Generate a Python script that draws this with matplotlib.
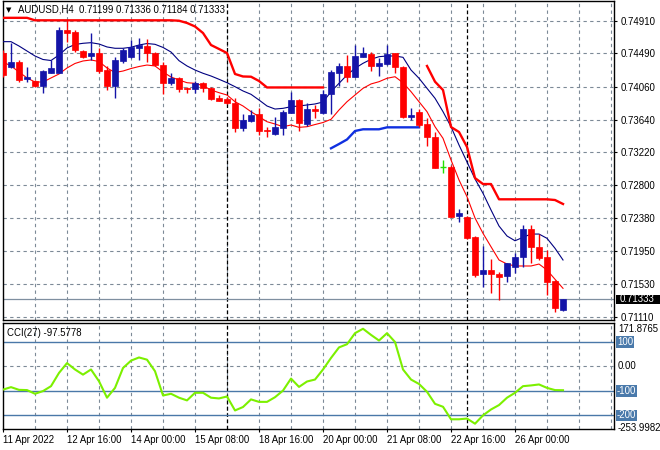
import matplotlib
matplotlib.use('Agg')
import matplotlib.pyplot as plt
from matplotlib.patches import Rectangle
import numpy as np

plt.rcParams['font.family'] = ['Liberation Sans', 'DejaVu Sans']

# AUDUSD H4 bars
opens = [0.74492, 0.74320, 0.74384, 0.74158, 0.74136, 0.74072, 0.74241, 0.74241, 0.74791, 0.74769,
         0.74521, 0.74457, 0.74492, 0.74277, 0.74072, 0.74397, 0.74440, 0.74556, 0.74585, 0.74499,
         0.74341, 0.74114, 0.74171, 0.74050, 0.74030, 0.74106, 0.74042, 0.73914, 0.73901, 0.73857,
         0.73536, 0.73626, 0.73712, 0.73507, 0.73455, 0.73536, 0.73729, 0.73892, 0.73584, 0.73776,
         0.73729, 0.73965, 0.74241, 0.74329, 0.74191, 0.74448, 0.74483, 0.74329, 0.74350, 0.74492,
         0.74312, 0.73678, 0.73742, 0.73584, 0.73421, 0.73036, 0.73036, 0.72406, 0.72394, 0.72129,
         0.71654, 0.71709, 0.71658, 0.71632, 0.71752, 0.71872, 0.72232, 0.72001, 0.71872, 0.71568,
         0.71199]
highs = [0.74534, 0.74620, 0.74406, 0.74320, 0.74149, 0.74277, 0.74406, 0.74833, 0.74919, 0.74791,
         0.74534, 0.74748, 0.74556, 0.74329, 0.74448, 0.74556, 0.74662, 0.74684, 0.74671, 0.74512,
         0.74384, 0.74235, 0.74191, 0.74063, 0.74140, 0.74127, 0.74063, 0.73956, 0.73927, 0.73914,
         0.73712, 0.73764, 0.73785, 0.73541, 0.73678, 0.73764, 0.73999, 0.73901, 0.73850, 0.73828,
         0.74020, 0.74277, 0.74363, 0.74470, 0.74598, 0.74576, 0.74512, 0.74427, 0.74598, 0.74499,
         0.74329, 0.73785, 0.73773, 0.73657, 0.73485, 0.73122, 0.73057, 0.72489, 0.72403, 0.72146,
         0.72017, 0.71847, 0.71687, 0.71803, 0.71924, 0.72287, 0.72287, 0.72171, 0.71966, 0.71581,
         0.71336]
lows = [0.74187, 0.74299, 0.74127, 0.74127, 0.74055, 0.73986, 0.74235, 0.74235, 0.74641, 0.74512,
        0.74427, 0.74406, 0.74235, 0.74020, 0.73914, 0.74363, 0.74427, 0.74406, 0.74384, 0.74329,
        0.73969, 0.74085, 0.73999, 0.73978, 0.73978, 0.73999, 0.73892, 0.73883, 0.73841, 0.73485,
        0.73498, 0.73613, 0.73443, 0.73421, 0.73443, 0.73443, 0.73721, 0.73498, 0.73558, 0.73657,
        0.73712, 0.73712, 0.74072, 0.74127, 0.74183, 0.74440, 0.74268, 0.74200, 0.74338, 0.74235,
        0.73657, 0.73635, 0.73549, 0.73301, 0.73015, 0.72951, 0.72386, 0.72329, 0.72103, 0.71623,
        0.71487, 0.71418, 0.71324, 0.71559, 0.71675, 0.71744, 0.71795, 0.71838, 0.71388, 0.71174,
        0.71184]
closes = [0.74213, 0.74384, 0.74149, 0.74191, 0.74072, 0.74260, 0.74299, 0.74791, 0.74756, 0.74534,
          0.74448, 0.74492, 0.74264, 0.74072, 0.74406, 0.74534, 0.74569, 0.74598, 0.74492, 0.74341,
          0.74114, 0.74171, 0.74030, 0.74030, 0.74106, 0.74042, 0.73909, 0.73883, 0.73850, 0.73536,
          0.73635, 0.73699, 0.73498, 0.73490, 0.73541, 0.73738, 0.73892, 0.73593, 0.73773, 0.73755,
          0.73969, 0.74252, 0.74329, 0.74191, 0.74457, 0.74499, 0.74329, 0.74363, 0.74483, 0.74312,
          0.73678, 0.73696, 0.73571, 0.73413, 0.73023, 0.73036, 0.72394, 0.72437, 0.72116, 0.71645,
          0.71709, 0.71654, 0.71623, 0.71795, 0.71872, 0.72232, 0.72001, 0.71867, 0.71559, 0.71217,
          0.71333]

# indicator lines
ma_slow = [0.74641, 0.74641, 0.74585, 0.74521, 0.74457, 0.74412, 0.74399, 0.74470, 0.74560, 0.74605,
           0.74620, 0.74628, 0.74611, 0.74573, 0.74556, 0.74556, 0.74569, 0.74598, 0.74617, 0.74607,
           0.74567, 0.74508, 0.74397, 0.74329, 0.74277, 0.74235, 0.74200, 0.74158, 0.74114, 0.74063,
           0.74008, 0.73965, 0.73892, 0.73815, 0.73776, 0.73785, 0.73806, 0.73815, 0.73828, 0.73841,
           0.73866, 0.73999, 0.74106, 0.74213, 0.74299, 0.74363, 0.74415, 0.74448, 0.74457, 0.74457,
           0.74440, 0.74277, 0.74171, 0.74042, 0.73914, 0.73742, 0.73549, 0.73314, 0.73096, 0.72878,
           0.72694, 0.72480, 0.72274, 0.72146, 0.72085, 0.72129, 0.72171, 0.72171, 0.72116, 0.71988,
           0.71838]
ma_fast = [0.74380, 0.74329, 0.74252, 0.74175, 0.74123, 0.74123, 0.74175, 0.74226, 0.74303, 0.74361,
           0.74393, 0.74406, 0.74386, 0.74303, 0.74245, 0.74264, 0.74296, 0.74322, 0.74341, 0.74329,
           0.74252, 0.74187, 0.74149, 0.74114, 0.74106, 0.74076, 0.74020, 0.73986, 0.73956, 0.73870,
           0.73815, 0.73742, 0.73678, 0.73613, 0.73584, 0.73549, 0.73571, 0.73541, 0.73549, 0.73577,
           0.73603, 0.73644, 0.73764, 0.73870, 0.73956, 0.74042, 0.74098, 0.74127, 0.74171, 0.74191,
           0.74114, 0.73999, 0.73870, 0.73742, 0.73549, 0.73400, 0.73122, 0.72865, 0.72650, 0.72377,
           0.72180, 0.72008, 0.71838, 0.71786, 0.71761, 0.71761, 0.71761, 0.71786, 0.71709, 0.71590,
           0.71474]
res1_start = 0
res1 = [0.74947, 0.74947, 0.74947, 0.74947, 0.74915, 0.74915, 0.74915, 0.74915, 0.74915, 0.74915,
        0.74915, 0.74915, 0.74915, 0.74915, 0.74915, 0.74915, 0.74915, 0.74915, 0.74915, 0.74915,
        0.74915, 0.74915, 0.74910, 0.74881, 0.74836, 0.74752, 0.74598, 0.74547, 0.74495, 0.74226,
        0.74194, 0.74191, 0.74136, 0.74053, 0.74053, 0.74053, 0.74053, 0.74053, 0.74053, 0.74053,
        0.74053]
res2_start = 53
res2 = [0.74329, 0.74127, 0.74020, 0.73545, 0.73481, 0.73289, 0.72890, 0.72813, 0.72813, 0.72617,
        0.72617, 0.72617, 0.72617, 0.72617, 0.72617, 0.72617, 0.72608, 0.72557]
sup_start = 41
sup = [0.73272, 0.73327, 0.73385, 0.73494, 0.73516, 0.73516, 0.73516, 0.73541, 0.73541, 0.73541,
       0.73541, 0.73541]

cci = [-95, -85, -96, -97, -112, -101, -81, -27, 13, -13,
       -34, -13, -61, -128, -88, -7, 23, 36, 27, -20,
       -119, -112, -128, -139, -108, -108, -128, -131, -123, -180,
       -166, -135, -145, -145, -126, -99, -50, -84, -62, -54,
       -13, 34, 77, 90, 135, 153, 128, 105, 135, 99,
       -13, -54, -72, -104, -153, -165, -216, -216, -213, -234,
       -200, -176, -158, -128, -108, -81, -78, -74, -88, -97, -97.5778]
cci_max = 171.8765
cci_min = -253.9982

price_ticks = [0.74910, 0.74490, 0.74060, 0.73640, 0.73220, 0.72800, 0.72380, 0.71950, 0.71530, 0.71110]
time_labels = ['11 Apr 2022', '12 Apr 16:00', '14 Apr 00:00', '15 Apr 08:00', '18 Apr 16:00',
               '20 Apr 00:00', '21 Apr 08:00', '22 Apr 16:00', '26 Apr 00:00']
time_pos = [0, 8, 16, 24, 32, 40, 48, 56, 64]
week_sep = [28, 58]

W, H = 660, 450
def box(x0, y0, x1, y1):
    return [x0 / W, 1 - y1 / H, (x1 - x0) / W, (y1 - y0) / H]

fig = plt.figure(figsize=(6.6, 4.5), dpi=100)
ax = fig.add_axes(box(2.5, 1, 614.3, 319.5))
ax2 = fig.add_axes(box(2.5, 322.5, 614.3, 429))

fs = 6.9
xl = (-0.0625, 76.41)
gridc = '#7d8a97'
for a in (ax, ax2):
    a.set_xlim(*xl)
    for s in a.spines.values():
        s.set_color('black')
        s.set_linewidth(1)
    for gx in range(4, 77, 4):
        a.axvline(gx, color=gridc, lw=0.8, ls=(0, (3, 3)), zorder=0)
    for gx in week_sep:
        a.axvline(gx, color='black', lw=0.9, ls=(0, (3, 2)), zorder=1)

# ---- price panel
ax.set_ylim(0.71074, 0.75163)
for p in price_ticks:
    ax.axhline(p, color=gridc, lw=0.8, ls=(0, (3, 3)), zorder=0)

x = np.arange(len(closes))
ax.plot(x, ma_slow, color='#000080', lw=0.8, zorder=3)
ax.plot(x, ma_fast, color='#ff0000', lw=0.8, zorder=3)
ax.plot(np.arange(len(res1)) + res1_start, res1, color='#ff0000', lw=1.7, zorder=3)
ax.plot(np.arange(len(res2)) + res2_start, res2, color='#ff0000', lw=1.7, zorder=3)
ax.plot(np.arange(len(sup)) + sup_start, sup, color='#1030e0', lw=1.7, zorder=3)

for i in range(len(closes)):
    o, h, l, c = opens[i], highs[i], lows[i], closes[i]
    if c > o:
        col = '#1414a8'
    elif c < o:
        col = '#ff0000'
    else:
        col = '#22e000'
    ax.vlines(i, l, h, color=col, lw=1, zorder=4)
    if c == o:
        ax.hlines(o, i - 0.35, i + 0.35, color=col, lw=1, zorder=4)
    else:
        hgt = max(abs(c - o), 0.00012)
        ax.bar(i, hgt, bottom=min(o, c), width=0.68, color=col, edgecolor=col, lw=0.5, zorder=4)

ax.axhline(closes[-1], color='#7f8fa0', lw=0.9, zorder=2)
ax.yaxis.tick_right()
ax.set_yticks(price_ticks)
ax.set_yticklabels(['%.5f' % p for p in price_ticks])
ax.tick_params(axis='y', length=2.2, width=0.8, pad=2.6, labelsize=fs)
ax.set_xticks([])
ytr = ax.get_yaxis_transform()
ax.add_patch(Rectangle((1.0022, closes[-1] - 0.00060), 0.0735, 0.00120, transform=ytr,
                       facecolor='black', edgecolor='none', clip_on=False, zorder=9))
ax.text(1.0095, closes[-1], '%.5f' % closes[-1], transform=ytr,
        va='center', ha='left', color='white', fontsize=fs, zorder=10, clip_on=False)

fig.text(6 / W, 1 - 10 / H, '\u25bc', family='DejaVu Sans', fontsize=5, va='center')
fig.text(18 / W, 1 - 10 / H,
         'AUDUSD,H4  %.5f %.5f %.5f %.5f' % (opens[-1], highs[-1], lows[-1], closes[-1]),
         fontsize=fs, va='center')

# ---- CCI panel
ax2.set_ylim(-255.6, 178.5)
ax2.axhline(0, color=gridc, lw=0.8, ls=(0, (3, 3)), zorder=0)
for lv in (100, -100, -200):
    ax2.axhline(lv, color='#4a78a8', lw=1, zorder=1)
ax2.plot(np.arange(len(cci)), cci, color='#7cf000', lw=1.5, zorder=3)
ax2.set_yticks([])
ax2.set_xticks(time_pos)
ax2.set_xticklabels(time_labels, ha='left')
ax2.tick_params(axis='x', length=2.2, width=0.8, pad=1.8, labelsize=fs)

tr = ax2.get_yaxis_transform()
ax2.text(1.006, cci_max, '%.4f' % cci_max, transform=tr, va='top', ha='left', fontsize=fs, clip_on=False)
ax2.annotate('%.4f' % cci_min, xy=(1.006, cci_min), xycoords=tr, xytext=(0, -3.2),
             textcoords='offset points', va='bottom', ha='left', fontsize=fs, annotation_clip=False)
ax2.text(1.006, 0, '0.00', transform=tr, va='center', ha='left', fontsize=fs, clip_on=False)
for lv in (100, -100, -200):
    ax2.text(1.0045, lv, str(lv), transform=tr, va='center', ha='left', fontsize=fs, color='white',
             clip_on=False, bbox=dict(boxstyle='square,pad=0.08', fc='#4a7aab', ec='none'))
fig.text(7 / W, 1 - 332.5 / H, 'CCI(27) %.4f' % cci[-1], fontsize=fs, va='center')

fig.savefig('out.png', dpi=100, facecolor='white')
